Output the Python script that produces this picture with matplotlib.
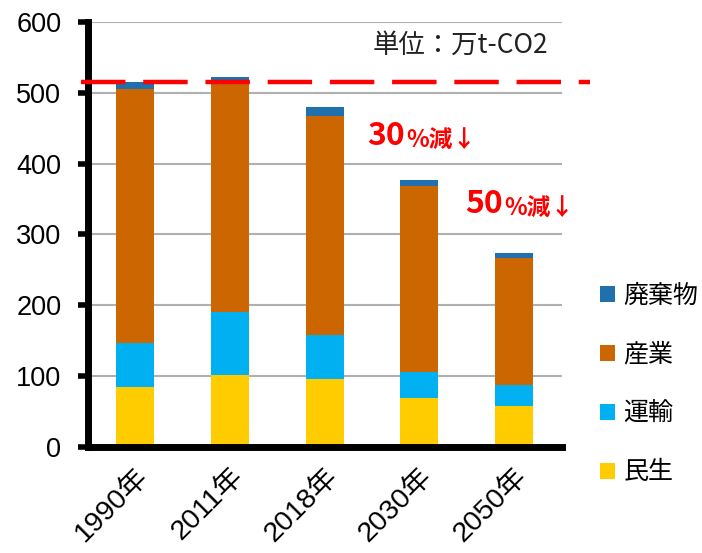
import matplotlib.pyplot as plt
import matplotlib.transforms as mtransforms
import numpy as np

plt.rcParams['font.family'] = ['Noto Sans CJK JP', 'DejaVu Sans']

years = ["1990年", "2011年", "2018年", "2030年", "2050年"]
minsei = [84, 102, 96, 69, 58]
unyu = [62, 88, 62, 37, 30]
sangyo = [360, 322, 310, 262, 179]
haikibutsu = [9, 11, 12, 9, 7]
baseline = 515

series = [("民生", minsei, "#FFCC00"),
          ("運輸", unyu, "#00B0F0"),
          ("産業", sangyo, "#CC6600"),
          ("廃棄物", haikibutsu, "#2070AE")]

latin_cjk = ['Liberation Sans', 'Noto Sans CJK JP']

fig = plt.figure(figsize=(7.02, 5.53), dpi=100)
ax = fig.add_axes([0.125, 0.192, 0.675, 0.768])

x = np.arange(len(years))
bottom = np.zeros(len(years))
handles = []
for name, vals, color in series:
    b = ax.bar(x, vals, 0.4, bottom=bottom, color=color, label=name, zorder=2)
    handles.append(b)
    bottom += np.array(vals)

ax.set_xlim(-0.5, 4.5)
ax.set_ylim(0, 600)
ax.set_yticks(np.arange(0, 601, 100))
ax.set_xticks(x)
ax.set_xticklabels(years, rotation=45, ha='right', rotation_mode='anchor',
                   fontsize=20.5, family=latin_cjk)
shift = mtransforms.ScaledTranslation(-10 / 72, 0, fig.dpi_scale_trans)
for lab in ax.get_xticklabels():
    lab.set_transform(lab.get_transform() + shift)
for lab in ax.get_yticklabels():
    lab.set_family(latin_cjk)
ax.tick_params(axis='y', labelsize=19.5, width=4, length=7, pad=12, direction='out')
ax.tick_params(axis='x', length=0, pad=12)
ax.yaxis.grid(True, color='#b0b0b0', linewidth=1.5, zorder=0)
ax.set_axisbelow(True)

for s in ['top', 'right']:
    ax.spines[s].set_visible(False)
for s in ['left', 'bottom']:
    ax.spines[s].set_linewidth(5)
    ax.spines[s].set_zorder(3)

# baseline dashed line
ax.plot([-0.57, 4.8], [baseline, baseline], color='#FF0000', linewidth=3.2,
        linestyle=(0, (10, 4)), clip_on=False, zorder=4)

ax.text(4.36, 568, "単位：万t-CO2", fontsize=19, ha='right', va='center', color='#222222')

t1 = ax.text(2.45, 426, "30", fontsize=23, fontweight='bold', color='#FF0000', va='baseline')
ax.annotate("%減↓", xy=(1, 0), xycoords=t1, xytext=(1, 0), textcoords='offset points',
            fontsize=17, fontweight='bold', color='#FF0000', va='bottom')
t2 = ax.text(3.48, 330, "50", fontsize=23, fontweight='bold', color='#FF0000', va='baseline')
ax.annotate("%減↓", xy=(1, 0), xycoords=t2, xytext=(1, 0), textcoords='offset points',
            fontsize=17, fontweight='bold', color='#FF0000', va='bottom')

leg = ax.legend(handles[::-1], [s[0] for s in series][::-1], loc='center left',
                bbox_to_anchor=(0.822, 0.305), bbox_transform=fig.transFigure,
                frameon=False, fontsize=18, handlelength=0.6, handleheight=0.6,
                handletextpad=0.35, labelspacing=1.31)

fig.savefig("out.png", dpi=100)
